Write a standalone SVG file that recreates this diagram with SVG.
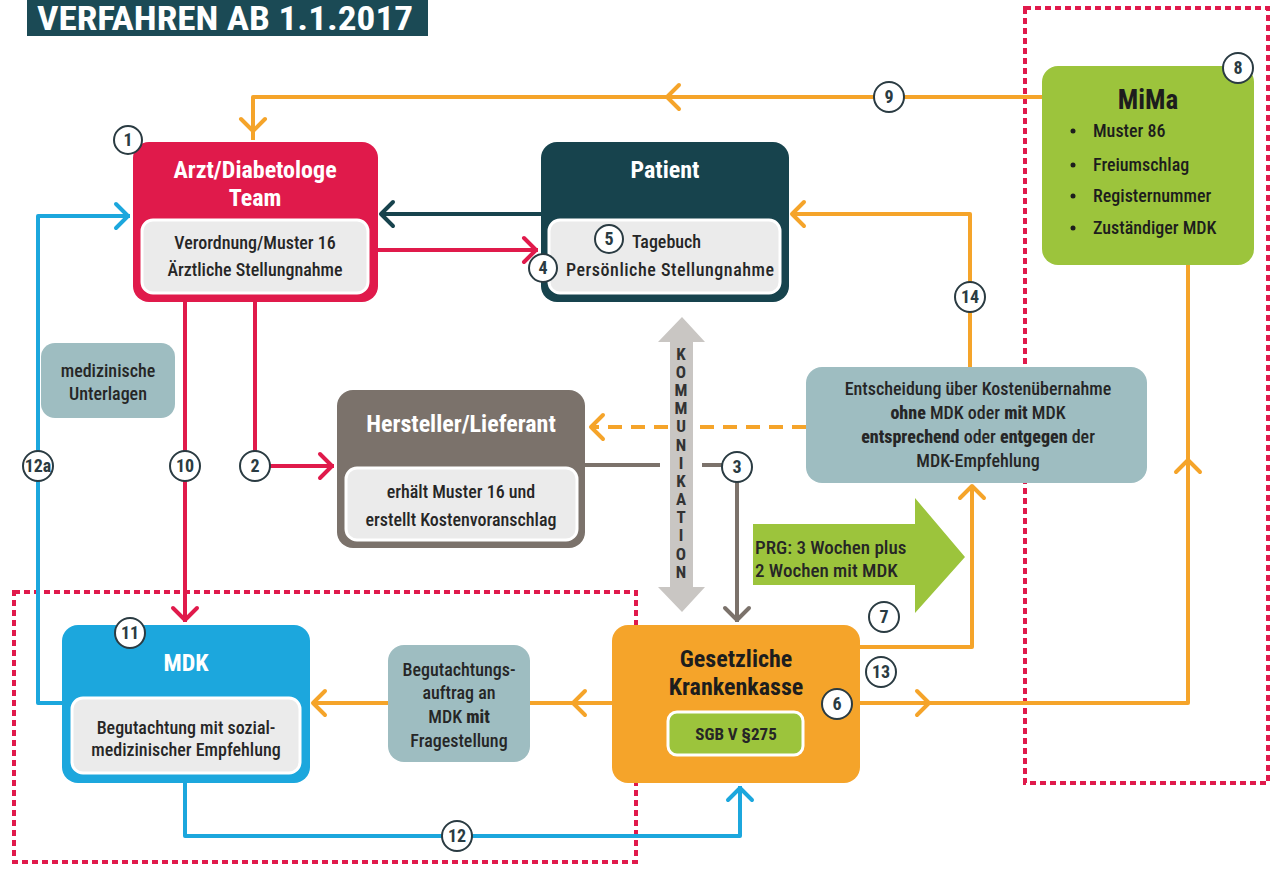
<svg xmlns="http://www.w3.org/2000/svg" width="1277" height="870" viewBox="0 0 1277 870">
<style>
text{font-family:"Liberation Sans Narrow","Roboto Condensed","Roboto","Liberation Sans",sans-serif;}
.ttl{font-size:24px;font-weight:bold;fill:#fff;text-anchor:middle;}
.ttlk{font-size:24px;font-weight:bold;fill:#1d1d1d;text-anchor:middle;}
.in{font-size:18px;font-weight:500;fill:#262626;text-anchor:middle;}
.lbl{font-size:18px;font-weight:500;fill:#262626;text-anchor:middle;}
.b{font-weight:800;}
.inner{fill:#ebebeb;stroke:#fff;stroke-width:3;}
.num{fill:#fff;stroke:#2a3b42;stroke-width:2;}
.numt{font-size:18px;font-weight:bold;fill:#2a3b42;text-anchor:middle;}
.c{fill:none;stroke-width:4;stroke-linejoin:round;}
.or{stroke:#f5a42a;}
.rd{stroke:#e01a4b;}
.bl{stroke:#1ca7dd;}
.dk{stroke:#17434d;}
.gr{stroke:#7b726b;}
.ch{fill:none;stroke-width:4;stroke-linecap:round;stroke-linejoin:round;}
.dash{stroke-dasharray:14 9;}
.frame{fill:none;stroke:#e01a4b;stroke-width:4;stroke-dasharray:6 4;}
.kom{font-size:17px;font-weight:bold;fill:#333;text-anchor:middle;}
.bul{font-size:18px;font-weight:500;fill:#1d1d1d;}
</style>
<rect width="1277" height="870" fill="#fff"/>
<g id="title">
<rect x="27" y="0" width="401" height="36" fill="#1b4a55"/>
<text x="37" y="30" textLength="376" lengthAdjust="spacingAndGlyphs" style="font-size:33px;font-weight:bold;fill:#fff;">VERFAHREN AB 1.1.2017</text>
</g>
<g id="frames">
<rect class="frame" x="1025" y="8" width="243" height="775"/>
<rect class="frame" x="14" y="592" width="622" height="270"/>
</g>
<g id="connectors">
<polyline class="c or" points="1042,97 253,97 253,140"/>
<path class="ch or" d="M679,85 L667,97 L679,109"/>
<path class="ch or" d="M241,119 L253,131 L265,119"/>
<line class="c dk" x1="541" y1="214" x2="380" y2="214"/>
<path class="ch dk" d="M393,202 L381,214 L393,226"/>
<line class="c rd" x1="378" y1="250" x2="538" y2="250"/>
<path class="ch rd" d="M524,238 L536,250 L524,262"/>
<polyline class="c or" points="970,367 970,214 792,214"/>
<path class="ch or" d="M804,202 L792,214 L804,226"/>
<line class="c rd" x1="185" y1="302" x2="185" y2="622"/>
<path class="ch rd" d="M173,608 L185,620 L197,608"/>
<polyline class="c rd" points="255,302 255,466 334,466"/>
<path class="ch rd" d="M320,454 L332,466 L320,478"/>
<polyline class="c bl" points="62,703 38,703 38,216 130,216"/>
<path class="ch bl" d="M116,204 L128,216 L116,228"/>
<polyline class="c bl" points="185,783 185,836 740,836 740,786"/>
<path class="ch bl" d="M728,800 L740,788 L752,800"/>
<line class="c gr" x1="585" y1="465" x2="660" y2="465"/>
<line class="c gr" x1="702" y1="465" x2="722" y2="465"/>
<line class="c gr" x1="737" y1="482" x2="737" y2="622"/>
<path class="ch gr" d="M725,608 L737,620 L749,608"/>
<line class="c or dash" x1="806" y1="427" x2="592" y2="427"/>
<path class="ch or" d="M603,415 L591,427 L603,439"/>
<line class="c or" x1="612" y1="703" x2="530" y2="703"/>
<path class="ch or" d="M585,691 L573,703 L585,715"/>
<line class="c or" x1="388" y1="703" x2="313" y2="703"/>
<path class="ch or" d="M325,691 L313,703 L325,715"/>
<polyline class="c or" points="860,647 972,647 972,486"/>
<path class="ch or" d="M960,498 L972,486 L984,498"/>
<polyline class="c or" points="860,703 1188,703 1188,265"/>
<path class="ch or" d="M917,691 L929,703 L917,715"/>
<path class="ch or" d="M1176,472 L1188,460 L1200,472"/>
</g>
<g id="kommunikation">
<path d="M682,317 L705,342 L693,342 L693,587 L705,587 L682,612 L658,587 L670,587 L670,342 L658,342 Z" fill="#c9c6c3"/>
<text class="kom" x="681" y="360">K</text>
<text class="kom" x="681" y="378">O</text>
<text class="kom" x="681" y="396">M</text>
<text class="kom" x="681" y="414">M</text>
<text class="kom" x="681" y="432">U</text>
<text class="kom" x="681" y="451">N</text>
<text class="kom" x="681" y="469">I</text>
<text class="kom" x="681" y="487">K</text>
<text class="kom" x="681" y="505">A</text>
<text class="kom" x="681" y="523">T</text>
<text class="kom" x="681" y="541">I</text>
<text class="kom" x="681" y="560">O</text>
<text class="kom" x="681" y="578">N</text>
</g>
<g id="arzt">
<rect x="133" y="142" width="245" height="160" rx="16" fill="#e01a4b"/>
<rect class="inner" x="142" y="220" width="226" height="73" rx="11"/>
<text class="ttl" x="255" y="178">Arzt/Diabetologe</text>
<text class="ttl" x="255" y="206">Team</text>
<text class="in" x="255" y="249">Verordnung/Muster 16</text>
<text class="in" x="255" y="276">Ärztliche Stellungnahme</text>
<circle class="num" cx="128" cy="140" r="14"/>
<text class="numt" x="128" y="146">1</text>
</g>
<g id="patient">
<rect x="541" y="142" width="248" height="160" rx="16" fill="#17434d"/>
<rect class="inner" x="549" y="220" width="231" height="73" rx="11"/>
<text class="ttl" x="665" y="178">Patient</text>
<text class="in" x="632" y="248" style="text-anchor:start">Tagebuch</text>
<text class="in" x="566" y="276" style="text-anchor:start" textLength="208">Persönliche Stellungnahme</text>
<circle class="num" cx="609" cy="239" r="14"/>
<text class="numt" x="609" y="245">5</text>
<circle class="num" cx="543" cy="268" r="14"/>
<text class="numt" x="543" y="274">4</text>
</g>
<g id="mima">
<rect x="1042" y="66" width="212" height="199" rx="16" fill="#9cc43c"/>
<text class="ttlk" x="1148" y="109" style="font-size:27px">MiMa</text>
<circle cx="1073" cy="131" r="2.5" fill="#1d1d1d"/>
<text class="bul" x="1093" y="137">Muster 86</text>
<circle cx="1073" cy="165" r="2.5" fill="#1d1d1d"/>
<text class="bul" x="1093" y="171">Freiumschlag</text>
<circle cx="1073" cy="196" r="2.5" fill="#1d1d1d"/>
<text class="bul" x="1093" y="202">Registernummer</text>
<circle cx="1073" cy="228" r="2.5" fill="#1d1d1d"/>
<text class="bul" x="1093" y="234">Zuständiger MDK</text>
<circle class="num" cx="1238" cy="68" r="15"/>
<text class="numt" x="1238" y="74">8</text>
</g>
<g id="hersteller">
<rect x="337" y="390" width="248" height="158" rx="16" fill="#7b726b"/>
<rect class="inner" x="346" y="468" width="231" height="72" rx="11"/>
<text class="ttl" x="461" y="432">Hersteller/Lieferant</text>
<text class="in" x="461" y="498">erhält Muster 16 und</text>
<text class="in" x="461" y="526">erstellt Kostenvoranschlag</text>
</g>
<g id="entscheidung">
<rect x="806" y="367" width="341" height="116" rx="16" fill="#9ebdc1"/>
<text class="lbl" x="978" y="395">Entscheidung über Kostenübernahme</text>
<text class="lbl" x="978" y="419"><tspan class="b">ohne</tspan> MDK oder <tspan class="b">mit</tspan> MDK</text>
<text class="lbl" x="978" y="443"><tspan class="b">entsprechend</tspan> oder <tspan class="b">entgegen</tspan> der</text>
<text class="lbl" x="978" y="467">MDK-Empfehlung</text>
</g>
<g id="unterlagen">
<rect x="41" y="343" width="134" height="75" rx="14" fill="#9ebdc1"/>
<text class="lbl" x="108" y="377">medizinische</text>
<text class="lbl" x="108" y="400">Unterlagen</text>
</g>
<g id="prg">
<path d="M753,524 L915,524 L915,498 L965,557 L915,613 L915,585 L753,585 Z" fill="#9cc43c"/>
<text x="755" y="554" style="font-size:19px;font-weight:500;fill:#262626;">PRG: 3 Wochen plus</text>
<text x="755" y="577" style="font-size:19px;font-weight:500;fill:#262626;">2 Wochen mit MDK</text>
</g>
<g id="kasse">
<rect x="612" y="625" width="248" height="158" rx="16" fill="#f5a42a"/>
<text class="ttlk" x="736" y="667">Gesetzliche</text>
<text class="ttlk" x="736" y="695">Krankenkasse</text>
<rect x="668" y="712" width="135" height="43" rx="9" fill="#9cc43c" stroke="#fff" stroke-width="3"/>
<text x="736" y="740" style="font-size:17px;font-weight:bold;fill:#262626;text-anchor:middle;">SGB V §275</text>
<circle class="num" cx="837" cy="704" r="15"/>
<text class="numt" x="837" y="710">6</text>
</g>
<g id="mdk">
<rect x="62" y="625" width="248" height="158" rx="16" fill="#1ca7dd"/>
<rect class="inner" x="72" y="698" width="228" height="75" rx="11"/>
<text class="ttl" x="186" y="671">MDK</text>
<text class="in" x="186" y="734">Begutachtung mit sozial-</text>
<text class="in" x="186" y="756">medizinischer Empfehlung</text>
<circle class="num" cx="130" cy="633" r="15"/>
<text class="numt" x="130" y="639">11</text>
</g>
<g id="begutachtung">
<rect x="388" y="645" width="142" height="117" rx="16" fill="#9ebdc1"/>
<text class="lbl" x="459" y="676">Begutachtungs-</text>
<text class="lbl" x="459" y="699">auftrag an</text>
<text class="lbl" x="459" y="723">MDK <tspan class="b">mit</tspan></text>
<text class="lbl" x="459" y="747">Fragestellung</text>
</g>
<g id="labels">
<circle class="num" cx="889" cy="97" r="15"/><text class="numt" x="889" y="103">9</text>
<circle class="num" cx="970" cy="297" r="15"/><text class="numt" x="970" y="303">14</text>
<circle class="num" cx="185" cy="466" r="15"/><text class="numt" x="185" y="472">10</text>
<circle class="num" cx="255" cy="466" r="15"/><text class="numt" x="255" y="472">2</text>
<circle class="num" cx="38" cy="466" r="15"/><text class="numt" x="38" y="472">12a</text>
<circle class="num" cx="737" cy="467" r="15"/><text class="numt" x="737" y="473">3</text>
<circle class="num" cx="884" cy="617" r="15"/><text class="numt" x="884" y="623">7</text>
<circle class="num" cx="881" cy="672" r="15"/><text class="numt" x="881" y="678">13</text>
<circle class="num" cx="457" cy="836" r="15"/><text class="numt" x="457" y="842">12</text>
</g>
</svg>
